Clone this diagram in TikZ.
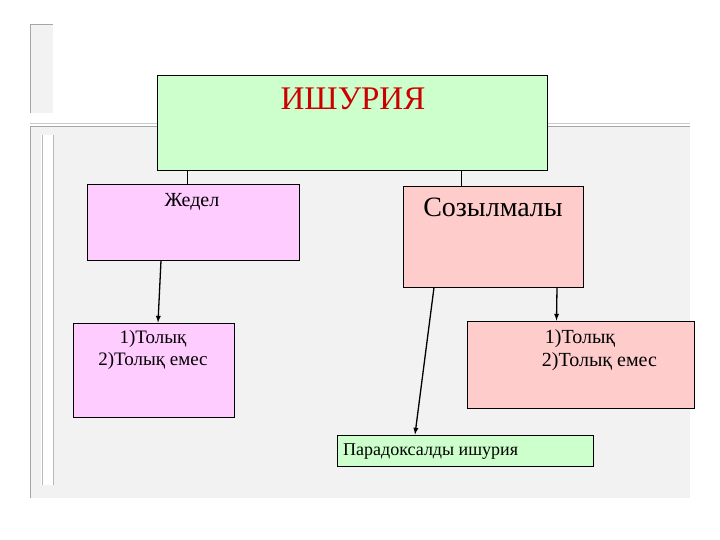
\documentclass[tikz,border=0pt]{standalone}
\usepackage{fontspec}
\setmainfont{Liberation Serif}
\usetikzlibrary{positioning}
\definecolor{ishgreen}{HTML}{CCFFCC}
\definecolor{jedpink}{HTML}{FFCCFF}
\definecolor{sozrose}{HTML}{FFCCCC}
\definecolor{slidegray}{HTML}{F2F2F2}
\definecolor{edgegray}{HTML}{A6A6A6}
\begin{document}
\begin{tikzpicture}
  [x=1pt,y=-1pt,every node/.style={inner sep=0pt},
   box/.style={draw=black,line width=0.9pt,rectangle},
   txt/.style={font=\fontsize{19}{22}\selectfont},
   arr/.style={-latex,line width=1.3pt}]
\useasboundingbox (0,0) rectangle (720,540);
% fon (slayd)
  \fill[slidegray] (30,24) rectangle (53,113);
  \draw[edgegray] (53,24) -- (30,24) -- (30,113);
  \fill[slidegray] (30,126) rectangle (690,498);
  \draw[edgegray!60,line width=0.6pt] (30,123.5) -- (690,123.5);
  \draw[edgegray,line width=0.8pt] (30,126) -- (690,126);
  \draw[edgegray] (30,126) -- (30,498);
  \fill[white] (41,135) rectangle (53,485);
  \draw[edgegray!80] (42,135) -- (42,485) (53,135) -- (53,485);

  % tortburyshtar
  \node[box,fill=ishgreen,minimum width=390pt,minimum height=95pt] (ish) at (352,122.5) {};
  \node[box,fill=jedpink,minimum width=212pt,minimum height=76pt]  (jed) at (193,222) {};
  \node[box,fill=sozrose,minimum width=180pt,minimum height=101pt] (soz) at (493,236.5) {};
  \node[box,fill=jedpink,minimum width=161pt,minimum height=94pt]  (jtol) at (153.5,370) {};
  \node[box,fill=sozrose,minimum width=227pt,minimum height=87pt]  (stol) at (580.5,364.5) {};
  \node[box,fill=ishgreen,minimum width=256pt,minimum height=31pt] (par) at (465,450.5) {};

  % matin
  \node[anchor=base,text=red!80!black,font=\fontsize{33}{39}\selectfont] (ishT) at (353,110) {ИШУРИЯ};
  \node[anchor=base,font=\fontsize{20}{24}\selectfont] (jedT) at (192,207) {Жедел};
  \node[anchor=base,font=\fontsize{28}{34}\selectfont] (sozT) at (493,217) {Созылмалы};
  \node[anchor=base,txt,align=center] (jtolT) at (153,365) {1)Толық\\2)Толық емес};
  \node[anchor=base west,font=\fontsize{20}{23.7}\selectfont,align=left] (stolT) at (541.7,366.7) {\hspace{3pt}1)Толық\\2)Толық емес};
  \node[anchor=base west,font=\fontsize{18}{22}\selectfont] (parT) at (343,455.5) {Парадоксалды ишурия};

  % baylanystar
  \draw[line width=0.7pt] ([xshift=-6pt]jed.north) -- ([xshift=-6pt]jed.north |- ish.south);
  \draw[line width=0.7pt] ([xshift=-32pt]soz.north) -- ([xshift=-32pt]soz.north |- ish.south);
  \draw[arr] ([xshift=-32pt]jed.south) -- ([xshift=4.5pt]jtol.north);
  \draw[arr] ([xshift=64pt]soz.south) -- ([xshift=-24pt]stol.north);
  \draw[arr] ([xshift=-59pt]soz.south) -- ([xshift=-50pt]par.north);
\end{tikzpicture}
\end{document}
